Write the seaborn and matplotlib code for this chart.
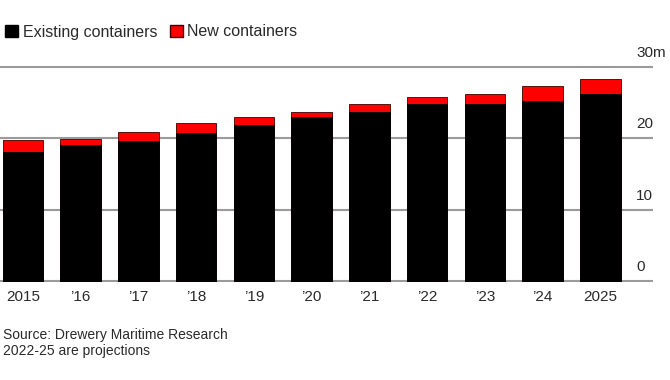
import pandas as pd
import matplotlib
matplotlib.use('Agg')
import matplotlib.pyplot as plt
import matplotlib.transforms as mtransforms
from matplotlib.patches import Patch
import seaborn as sns

# 数据（单位：百万个集装箱）
years = ['2015', '\u201916', '\u201917', '\u201918', '\u201919', '\u201920',
         '\u201921', '\u201922', '\u201923', '\u201924', '2025']
existing = [18.1, 19.1, 19.65, 20.75, 21.9, 22.9, 23.6, 24.8, 24.8, 25.25, 26.2]
new = [1.7, 0.8, 1.25, 1.4, 1.1, 0.8, 1.2, 0.9, 1.4, 2.05, 2.05]
y_ticks = [0, 10, 20, 30]
y_tick_labels = ['0', '10', '20', '30m']

df = pd.DataFrame({'year': years, 'existing': existing, 'new': new})
df['total'] = df['existing'] + df['new']

sns.set_theme(style='white')
plt.rcParams['font.family'] = ['Liberation Sans', 'DejaVu Sans']
text_color = '#2a2a2a'
grid_color = '#9a9a9a'

fig = plt.figure(figsize=(6.7, 3.8), dpi=100)
ax = fig.add_axes([0.0, 0.2577, 0.9746, 0.5705])

# 堆叠柱：先画总量（红色），再在上面盖现有量（黑色）
sns.barplot(data=df, x='year', y='total', color='#ff0000', saturation=1,
            width=0.7, edgecolor='#400000', linewidth=0.6, ax=ax)
sns.barplot(data=df, x='year', y='existing', color='black', saturation=1,
            width=0.7, edgecolor='black', linewidth=0.6, ax=ax)

ax.set_xlim(-0.397, 10.91)
ax.set_ylim(-0.15, 30.2)
ax.set_yticks(y_ticks)
ax.set_yticklabels([])
ax.grid(axis='y', color=grid_color, linewidth=1.5)
ax.grid(axis='x', visible=False)
ax.set_axisbelow(True)
sns.despine(ax=ax, left=True, bottom=True)
ax.set_xlabel('')
ax.set_ylabel('')
ax.tick_params(axis='x', length=0, pad=6, labelsize=11, labelcolor=text_color)
ax.tick_params(axis='y', length=0)

# 右侧的刻度标签放在网格线上方
trans = mtransforms.blended_transform_factory(ax.transAxes, ax.transData)
for val, lab in zip(y_ticks, y_tick_labels):
    ax.annotate(lab, xy=(636 / 653, val), xycoords=trans, xytext=(0, 5),
                textcoords='offset points', ha='left', va='bottom',
                fontsize=11, color=text_color, annotation_clip=False)

# 图例
handles = [Patch(facecolor='black', edgecolor='black'),
           Patch(facecolor='#ff0000', edgecolor='#400000')]
fig.legend(handles, ['Existing containers', 'New containers'],
           loc='center left', bbox_to_anchor=(5 / 670, 1 - 32 / 380), ncol=2,
           frameon=False, fontsize=11.5, handlelength=0.8, handleheight=0.8,
           handletextpad=0.3, columnspacing=0.8, borderpad=0, borderaxespad=0,
           labelcolor=text_color)

fig.text(0.005, 1 - 335 / 380, 'Source: Drewery Maritime Research',
         fontsize=10, color=text_color, va='center')
fig.text(0.005, 1 - 351.5 / 380, '2022-25 are projections',
         fontsize=10, color=text_color, va='center')

fig.savefig('out.png', dpi=100)
plt.close(fig)
